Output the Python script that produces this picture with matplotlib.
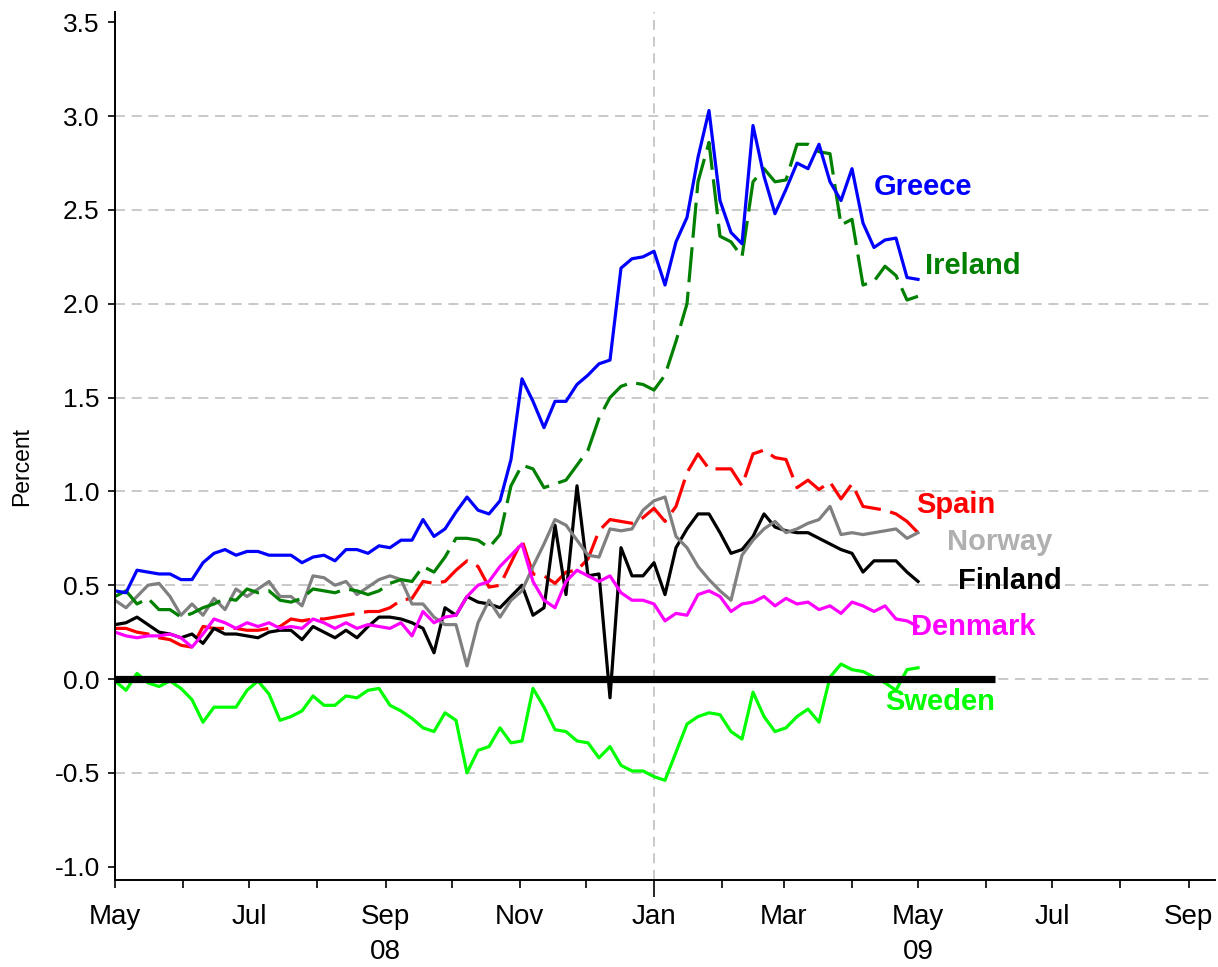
import numpy as np
import matplotlib
matplotlib.use('Agg')
import matplotlib.pyplot as plt
import matplotlib.dates as mdates
from matplotlib.ticker import FuncFormatter, FixedLocator

# ---------------------------------------------------------------------------
# Data: spreads in percent, sampled every 5 days from 1 May 2008
# ---------------------------------------------------------------------------
start = np.datetime64('2008-05-01')
day_offsets = np.arange(0, 366, 5)
dates = start + day_offsets.astype('timedelta64[D]')

greece = [0.47, 0.46, 0.58, 0.57, 0.56, 0.56, 0.53, 0.53, 0.62, 0.67,
          0.69, 0.66, 0.68, 0.68, 0.66, 0.66, 0.66, 0.62, 0.65, 0.66,
          0.63, 0.69, 0.69, 0.67, 0.71, 0.70, 0.74, 0.74, 0.85, 0.76,
          0.80, 0.89, 0.97, 0.90, 0.88, 0.95, 1.17, 1.60, 1.48, 1.34,
          1.48, 1.48, 1.57, 1.62, 1.68, 1.70, 2.19, 2.24, 2.25, 2.28,
          2.10, 2.33, 2.46, 2.78, 3.03, 2.55, 2.38, 2.32, 2.95, 2.68,
          2.48, 2.61, 2.75, 2.72, 2.85, 2.65, 2.55, 2.72, 2.43, 2.30,
          2.34, 2.35, 2.14, 2.13]

ireland = [0.44, 0.47, 0.40, 0.43, 0.37, 0.37, 0.33, 0.35, 0.38, 0.40,
           0.43, 0.42, 0.48, 0.46, 0.47, 0.42, 0.41, 0.43, 0.48, 0.47,
           0.46, 0.48, 0.47, 0.45, 0.47, 0.51, 0.53, 0.52, 0.60, 0.57,
           0.65, 0.75, 0.75, 0.74, 0.70, 0.77, 1.03, 1.14, 1.12, 1.02,
           1.04, 1.06, 1.14, 1.22, 1.39, 1.50, 1.56, 1.58, 1.57, 1.54,
           1.62, 1.80, 2.00, 2.65, 2.86, 2.36, 2.33, 2.25, 2.65, 2.72,
           2.65, 2.66, 2.85, 2.85, 2.81, 2.80, 2.42, 2.45, 2.10, 2.12,
           2.20, 2.15, 2.02, 2.04]

spain = [0.27, 0.27, 0.25, 0.24, 0.22, 0.21, 0.18, 0.17, 0.28, 0.27,
         0.27, 0.27, 0.26, 0.26, 0.27, 0.28, 0.32, 0.31, 0.32, 0.32,
         0.33, 0.34, 0.35, 0.36, 0.36, 0.38, 0.42, 0.43, 0.52, 0.51,
         0.52, 0.58, 0.63, 0.60, 0.49, 0.50, 0.62, 0.74, 0.56, 0.55,
         0.51, 0.57, 0.58, 0.64, 0.79, 0.85, 0.84, 0.83, 0.86, 0.91,
         0.84, 0.92, 1.10, 1.20, 1.12, 1.12, 1.12, 1.03, 1.20, 1.22,
         1.18, 1.17, 1.02, 1.06, 1.01, 1.05, 0.96, 1.04, 0.92, 0.91,
         0.90, 0.88, 0.84, 0.78]

norway = [0.42, 0.38, 0.44, 0.50, 0.51, 0.44, 0.34, 0.40, 0.34, 0.43,
          0.37, 0.48, 0.44, 0.48, 0.52, 0.44, 0.44, 0.39, 0.55, 0.54,
          0.50, 0.52, 0.45, 0.49, 0.53, 0.55, 0.53, 0.40, 0.40, 0.33,
          0.29, 0.29, 0.07, 0.30, 0.42, 0.33, 0.42, 0.47, 0.60, 0.72,
          0.85, 0.82, 0.74, 0.66, 0.65, 0.80, 0.79, 0.80, 0.90, 0.95,
          0.97, 0.76, 0.70, 0.60, 0.53, 0.47, 0.42, 0.66, 0.74, 0.80,
          0.84, 0.78, 0.80, 0.83, 0.85, 0.92, 0.77, 0.78, 0.77, 0.78,
          0.79, 0.80, 0.75, 0.78]

finland = [0.29, 0.30, 0.33, 0.29, 0.25, 0.24, 0.22, 0.24, 0.19, 0.27,
           0.24, 0.24, 0.23, 0.22, 0.25, 0.26, 0.26, 0.21, 0.28, 0.25,
           0.22, 0.26, 0.22, 0.28, 0.33, 0.33, 0.32, 0.30, 0.27, 0.14,
           0.38, 0.34, 0.44, 0.41, 0.40, 0.38, 0.44, 0.50, 0.34, 0.38,
           0.82, 0.45, 1.03, 0.55, 0.56, -0.10, 0.70, 0.55, 0.55, 0.62,
           0.45, 0.70, 0.80, 0.88, 0.88, 0.78, 0.67, 0.69, 0.76, 0.88,
           0.81, 0.79, 0.78, 0.78, 0.75, 0.72, 0.69, 0.67, 0.57, 0.63,
           0.63, 0.63, 0.57, 0.52]

denmark = [0.25, 0.23, 0.22, 0.23, 0.23, 0.24, 0.22, 0.17, 0.24, 0.32,
           0.30, 0.27, 0.30, 0.28, 0.30, 0.27, 0.28, 0.27, 0.32, 0.30,
           0.27, 0.30, 0.27, 0.29, 0.28, 0.27, 0.30, 0.23, 0.36, 0.30,
           0.33, 0.34, 0.44, 0.50, 0.52, 0.60, 0.66, 0.72, 0.52, 0.42,
           0.38, 0.52, 0.58, 0.55, 0.52, 0.55, 0.46, 0.42, 0.42, 0.40,
           0.31, 0.35, 0.34, 0.45, 0.47, 0.44, 0.36, 0.40, 0.41, 0.44,
           0.39, 0.43, 0.40, 0.41, 0.37, 0.39, 0.35, 0.41, 0.39, 0.36,
           0.39, 0.32, 0.31, 0.28]

sweden = [-0.01, -0.06, 0.03, -0.02, -0.04, -0.01, -0.05, -0.11, -0.23, -0.15,
          -0.15, -0.15, -0.06, -0.01, -0.08, -0.22, -0.20, -0.17, -0.09, -0.14,
          -0.14, -0.09, -0.10, -0.06, -0.05, -0.14, -0.17, -0.21, -0.26, -0.28,
          -0.18, -0.22, -0.50, -0.38, -0.36, -0.26, -0.34, -0.33, -0.05, -0.15,
          -0.27, -0.28, -0.33, -0.34, -0.42, -0.36, -0.46, -0.49, -0.49, -0.52,
          -0.54, -0.39, -0.24, -0.20, -0.18, -0.19, -0.28, -0.32, -0.07, -0.20,
          -0.28, -0.26, -0.20, -0.16, -0.23, 0.01, 0.08, 0.05, 0.04, 0.01,
          -0.02, -0.06, 0.05, 0.06]

zero_line_dates = np.array(['2008-05-01', '2009-06-05'], dtype='datetime64[D]')

# label anchors (date, value) for the series names
label_names = ['Greece', 'Ireland', 'Spain', 'Norway', 'Finland', 'Denmark', 'Sweden']
label_dates = np.array(['2009-04-11', '2009-05-04', '2009-04-30', '2009-05-14',
                        '2009-05-19', '2009-04-28', '2009-04-16'], dtype='datetime64[D]')
label_values = [2.62, 2.20, 0.93, 0.73, 0.52, 0.28, -0.12]
label_colors = ['#0000ff', '#008000', '#ff0000', '#b0b0b0', '#000000', '#ff00ff', '#00ff00']

FONT = ['Liberation Sans', 'DejaVu Sans']

# ---------------------------------------------------------------------------
fig = plt.figure(figsize=(12.18, 9.67), dpi=100)
ax = fig.add_axes([115 / 1218, 87 / 967, 1100 / 1218, 868 / 967])

x = mdates.date2num(dates)

# grid
for g in np.arange(-0.5, 3.01, 0.5):
    ax.axhline(g, color='#c0c0c0', lw=1.2, ls=(0, (6, 4)), zorder=0)
ax.axvline(mdates.date2num(np.datetime64('2009-01-01')), color='#c0c0c0',
           lw=1.2, ls=(0, (6, 4)), zorder=0)

lw = 2.3
ax.plot(x, spain, color='#ff0000', lw=lw, dashes=(11, 3))
ax.plot(x, finland, color='#000000', lw=lw)
ax.plot(x, norway, color='#808080', lw=lw)
ax.plot(x, denmark, color='#ff00ff', lw=lw)
ax.plot(x, ireland, color='#008000', lw=lw, dashes=(11, 3))
ax.plot(x, greece, color='#0000ff', lw=lw)
ax.plot(x, sweden, color='#00ff00', lw=lw)
ax.plot(mdates.date2num(zero_line_dates), [0, 0], color='black', lw=5.2, solid_capstyle='butt')

for name, d, v, c in zip(label_names, label_dates, label_values, label_colors):
    ax.text(mdates.date2num(d), v, name, color=c, fontsize=21, fontweight='bold',
            family=FONT, ha='left', va='center')

# axes limits
ax.set_xlim(mdates.date2num(np.datetime64('2008-05-01')),
            mdates.date2num(np.datetime64('2009-09-13')))
ax.set_ylim(-1.071, 3.555)

# spines
for s in ['top', 'right']:
    ax.spines[s].set_visible(False)
ax.spines['left'].set_linewidth(1.4)
ax.spines['bottom'].set_linewidth(1.4)

# y ticks
ax.yaxis.set_major_locator(FixedLocator(np.arange(-1.0, 3.51, 0.5)))
ax.yaxis.set_major_formatter(FuncFormatter(lambda v, p: f'{v:.1f}'))
ax.tick_params(axis='y', direction='out', length=5, width=1.2, pad=6)
for lab in ax.get_yticklabels():
    lab.set_fontsize(19)
    lab.set_family(FONT)

# x ticks: monthly minor, year boundary major
month_abbr = ['Jan', 'Feb', 'Mar', 'Apr', 'May', 'Jun', 'Jul', 'Aug', 'Sep', 'Oct', 'Nov', 'Dec']


def month_label(v, pos):
    d = mdates.num2date(v)
    if d.month % 2 == 0:
        return ''
    s = month_abbr[d.month - 1]
    if (d.year, d.month) == (2008, 9):
        s += '\n08'
    if (d.year, d.month) == (2009, 5):
        s += '\n09'
    return s


ax.xaxis.set_major_locator(mdates.YearLocator())
ax.xaxis.set_major_formatter(FuncFormatter(lambda v, p: 'Jan'))
ax.xaxis.set_minor_locator(mdates.MonthLocator())
ax.xaxis.set_minor_formatter(FuncFormatter(month_label))
ax.tick_params(axis='x', which='minor', direction='out', length=6, width=1.2, pad=11)
ax.tick_params(axis='x', which='major', direction='out', length=12.5, width=1.2, pad=4.5)
for lab in ax.get_xticklabels(minor=True) + ax.get_xticklabels():
    lab.set_fontsize(20)
    lab.set_family(FONT)
    lab.set_linespacing(1.45)

fig.text(22 / 1218, 1 - 467 / 967, 'Percent', rotation=90, ha='center', va='center',
         fontsize=16.5, family=FONT)

fig.savefig('out.png', dpi=100)
